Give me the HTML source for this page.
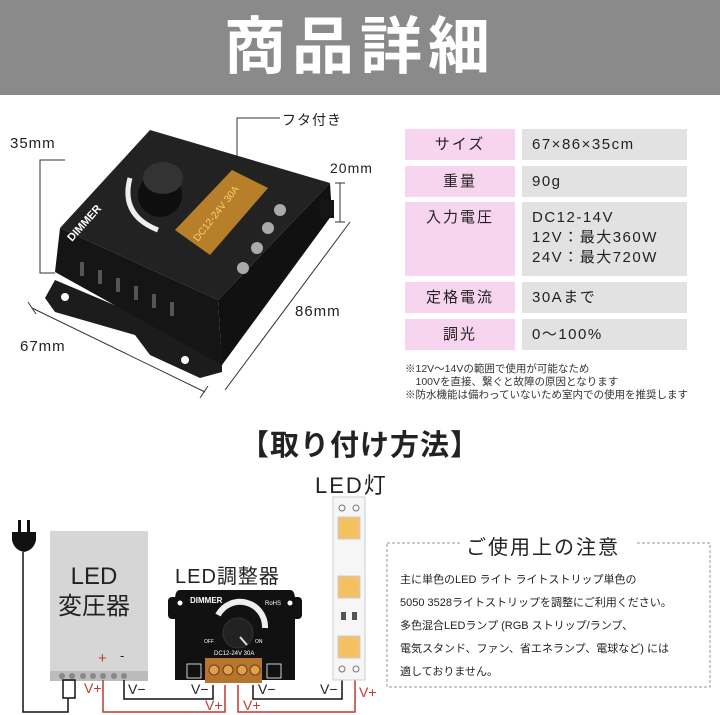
<!DOCTYPE html>
<html><head><meta charset="utf-8"><style>
*{margin:0;padding:0;box-sizing:border-box}
body{width:720px;height:715px;background:#fff;position:relative;overflow:hidden;font-family:"Liberation Sans","Noto Sans CJK JP",sans-serif;color:#222}
.a{position:absolute;white-space:nowrap}
.hdr{left:0;top:0;width:720px;height:95px;background:#8a8a8a}
.t{left:0;width:720px;top:10px;text-align:center;color:#fff;font-size:62px;font-weight:bold;letter-spacing:6px;line-height:75px}
.pk{background:#f8d5ee;left:405px;width:110px;text-align:center;font-size:15px;letter-spacing:2px}
.gy{background:#e2e2e2;left:522px;width:165px;padding-left:10px;font-size:15px;letter-spacing:1.5px}
.note{font-size:10.5px;left:405px;color:#333}
.nb{font-size:11px;left:400px;color:#222}
</style></head><body>
<div class="a hdr"></div>
<div class="a t">商品詳細</div>

<svg class="a" style="left:0;top:95px" width="400" height="320" viewBox="0 95 400 320">
<g stroke="#333" stroke-width="1" fill="none">
<polyline points="65,160 40,160 40,273 55,273"/>
<polyline points="237,240 237,118 280,118"/>
<line x1="340" y1="183" x2="340" y2="222"/><line x1="335" y1="183" x2="345" y2="183"/><line x1="335" y1="222" x2="345" y2="222"/>
<line x1="32" y1="308" x2="205" y2="392"/><line x1="28" y1="302" x2="36" y2="314"/><line x1="200" y1="398" x2="208" y2="386"/>
<line x1="350" y1="222" x2="225" y2="390"/>
</g>
<polygon points="45,298 55,280 150,320 175,332 222,345 222,372 200,378 150,355 135,335 55,312" fill="#1c1c1c"/>
<polygon points="60,228 150,130 330,183 218,300" fill="#222"/>
<polygon points="60,228 218,300 222,365 55,272" fill="#151515"/>
<polygon points="218,300 330,183 332,215 222,365" fill="#111"/>
<rect x="320" y="200" width="14" height="18" fill="#151515"/>
<circle cx="160" cy="195" r="22" fill="#0e0e0e"/>
<ellipse cx="163" cy="178" rx="20" ry="16" fill="#333"/>
<path d="M130 178 Q120 215 158 230" stroke="#eee" stroke-width="5" fill="none"/>
<polygon points="175,230 232,170 268,188 210,255" fill="#c88a2a" opacity="0.9"/>
<text x="198" y="242" font-size="10" fill="#f4d070" transform="rotate(-52 198 242)" font-family="Liberation Sans">DC12-24V 30A</text>
<text x="72" y="242" font-size="11" fill="#fff" font-weight="bold" transform="rotate(-48 72 242)" font-family="Liberation Sans">DIMMER</text>
<g fill="#aaa"><circle cx="280" cy="210" r="6"/><circle cx="268" cy="228" r="6"/><circle cx="257" cy="248" r="6"/><circle cx="243" cy="268" r="6"/></g>
<g fill="#555"><rect x="80" y="262" width="4" height="14"/><rect x="98" y="270" width="4" height="14"/><rect x="116" y="278" width="4" height="14"/><rect x="134" y="286" width="4" height="14"/><rect x="152" y="294" width="4" height="14"/><rect x="170" y="302" width="4" height="14"/></g>
<circle cx="65" cy="297" r="4" fill="#fff"/><circle cx="185" cy="360" r="4" fill="#fff"/>
</svg>
<div class="a" style="left:10px;top:135px;font-size:15px;letter-spacing:1px">35mm</div>
<div class="a" style="left:282px;top:110px;font-size:14px;letter-spacing:1px">フタ付き</div>
<div class="a" style="left:330px;top:160px;font-size:14px;letter-spacing:1px">20mm</div>
<div class="a" style="left:295px;top:303px;font-size:15px;letter-spacing:1px">86mm</div>
<div class="a" style="left:20px;top:338px;font-size:15px;letter-spacing:1px">67mm</div>

<div class="a pk" style="top:129px;height:31px;line-height:31px">サイズ</div><div class="a gy" style="top:129px;height:31px;line-height:31px">67×86×35cm</div>
<div class="a pk" style="top:166px;height:31px;line-height:31px">重量</div><div class="a gy" style="top:166px;height:31px;line-height:31px">90g</div>
<div class="a pk" style="top:202px;height:74px;padding-top:6px;line-height:20px">入力電圧</div><div class="a gy" style="top:202px;height:74px;padding-top:6px;line-height:20px">DC12-14V<br>12V：最大360W<br>24V：最大720W</div>
<div class="a pk" style="top:282px;height:31px;line-height:31px">定格電流</div><div class="a gy" style="top:282px;height:31px;line-height:31px">30Aまで</div>
<div class="a pk" style="top:319px;height:31px;line-height:31px">調光</div><div class="a gy" style="top:319px;height:31px;line-height:31px">0～100%</div>
<div class="a note" style="top:361px">※12V～14Vの範囲で使用が可能なため</div>
<div class="a note" style="top:374px">　100Vを直接、繋ぐと故障の原因となります</div>
<div class="a note" style="top:387px">※防水機能は備わっていないため室内での使用を推奨します</div>

<div class="a" style="left:0;width:720px;text-align:center;top:422px;font-size:29px;font-weight:bold;letter-spacing:1px">【取り付け方法】</div>
<div class="a" style="left:315px;top:468px;font-size:22px;letter-spacing:2px">LED灯</div>

<svg class="a" style="left:0;top:0" width="720" height="715">
<g fill="#111"><rect x="18" y="520" width="3" height="12"/><rect x="27" y="520" width="3" height="12"/><path d="M12 532 H36 V540 Q34 550 24 552 Q14 550 12 540Z"/></g>
<rect x="50" y="531" width="98" height="143" fill="#d6d6d6"/>
<rect x="50" y="671" width="98" height="10" fill="#bbb"/>
<g fill="#888"><circle cx="62" cy="676" r="3"/><circle cx="72" cy="676" r="3"/><circle cx="83" cy="676" r="3"/><circle cx="93" cy="676" r="3"/><circle cx="103" cy="676" r="3"/><circle cx="114" cy="676" r="3"/><circle cx="124" cy="676" r="3"/></g>
<g stroke="#111" stroke-width="1.5" fill="none">
<polyline points="23,552 23,712 68,712 68,698"/>
<rect x="63" y="680" width="12" height="18"/>
<polyline points="124,680 124,699 213,699 213,685"/>
<polyline points="253,685 253,699 342,699 342,672"/>
</g>
<g stroke="#c0392b" stroke-width="1.5" fill="none">
<polyline points="103,680 103,712 225,712 225,685"/>
<polyline points="238,685 238,712 355,712 355,672"/>
</g>
<path d="M180 590 H290 Q295 590 295 600 V680 H175 V600 Q175 590 180 590Z" fill="#111"/>
<rect x="168" y="597" width="14" height="22" rx="4" fill="#111"/><rect x="288" y="597" width="14" height="22" rx="4" fill="#111"/>
<circle cx="180" cy="603" r="2.5" fill="#fff"/><circle cx="290" cy="603" r="2.5" fill="#fff"/>
<path d="M218 615 A25 25 0 0 1 265 628" stroke="#eee" stroke-width="6" fill="none"/>
<circle cx="238" cy="633" r="15" fill="#222" stroke="#333"/>
<line x1="240" y1="637" x2="247" y2="645" stroke="#ddd" stroke-width="2"/>
<text x="190" y="603" font-size="8" fill="#fff" font-weight="bold">DIMMER</text>
<text x="265" y="605" font-size="6" fill="#fff">RoHS</text>
<text x="204" y="643" font-size="5" fill="#fff">OFF</text><text x="255" y="643" font-size="5" fill="#fff">ON</text>
<text x="214" y="655" font-size="6" fill="#fff">DC12-24V 30A</text>
<rect x="205" y="658" width="57" height="25" fill="#b5752e"/>
<g fill="#e0a050" stroke="#6b4010"><circle cx="214" cy="670" r="5"/><circle cx="228" cy="670" r="5"/><circle cx="242" cy="670" r="5"/><circle cx="255" cy="670" r="5"/></g>
<rect x="187" y="664" width="14" height="14" fill="none" stroke="#fff" stroke-width="0.8"/><rect x="267" y="664" width="14" height="14" fill="none" stroke="#fff" stroke-width="0.8"/>
<rect x="333" y="497" width="32" height="183" fill="#f6f6f6" stroke="#ccc"/>
<g fill="#f4c06a" stroke="#ccc"><rect x="338" y="517" width="22" height="22"/><rect x="338" y="576" width="22" height="22"/><rect x="338" y="636" width="22" height="22"/></g>
<g fill="#f5c060"><circle cx="349" cy="528" r="8"/><circle cx="349" cy="587" r="8"/><circle cx="349" cy="647" r="8"/></g>
<rect x="341" y="612" width="5" height="8" fill="#555"/><rect x="352" y="612" width="5" height="8" fill="#555"/>
<circle cx="342" cy="508" r="3" fill="none" stroke="#777"/><circle cx="356" cy="508" r="3" fill="none" stroke="#777"/>
<circle cx="342" cy="669" r="3" fill="none" stroke="#777"/><circle cx="356" cy="669" r="3" fill="none" stroke="#777"/>
<rect x="387" y="543" width="323" height="144" fill="none" stroke="#999" stroke-dasharray="3,2"/>
<rect x="460" y="530" width="175" height="28" fill="#fff"/>
</svg>
<div class="a" style="left:45px;width:98px;text-align:center;top:562px;font-size:24px;line-height:30px;color:#222">LED<br>変圧器</div>
<div class="a" style="left:98px;top:650px;font-size:15px;color:#c0392b">+</div>
<div class="a" style="left:120px;top:648px;font-size:13px">-</div>
<div class="a" style="left:84px;top:680px;font-size:14px;color:#c0392b">V+</div>
<div class="a" style="left:128px;top:681px;font-size:14px">V−</div>
<div class="a" style="left:191px;top:681px;font-size:14px">V−</div>
<div class="a" style="left:205px;top:697px;font-size:14px;color:#c0392b">V+</div>
<div class="a" style="left:243px;top:697px;font-size:14px;color:#c0392b">V+</div>
<div class="a" style="left:258px;top:681px;font-size:14px">V−</div>
<div class="a" style="left:320px;top:681px;font-size:14px">V−</div>
<div class="a" style="left:359px;top:684px;font-size:14px;color:#c0392b">V+</div>
<div class="a" style="left:175px;top:560px;font-size:20px;letter-spacing:1px">LED調整器</div>
<div class="a" style="left:466px;top:531px;font-size:20px;letter-spacing:2px">ご使用上の注意</div>
<div class="a nb" style="top:571px">主に単色のLED ライト ライトストリップ単色の</div>
<div class="a nb" style="top:594px">5050 3528ライトストリップを調整にご利用ください。</div>
<div class="a nb" style="top:617px">多色混合LEDランプ (RGB ストリップ/ランプ、</div>
<div class="a nb" style="top:640px">電気スタンド、ファン、省エネランプ、電球など) には</div>
<div class="a nb" style="top:663px">適しておりません。</div>
</body></html>
